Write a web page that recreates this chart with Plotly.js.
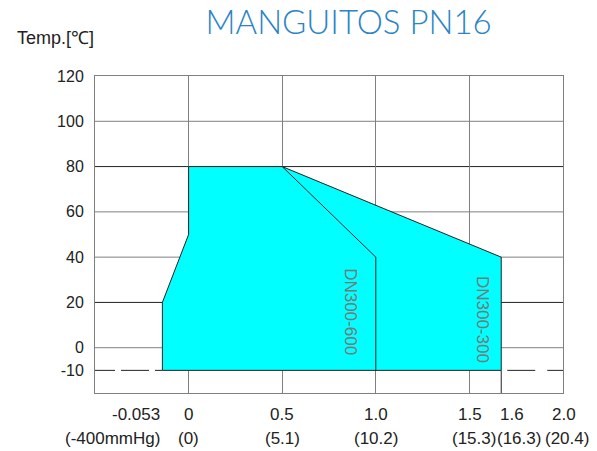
<!DOCTYPE html>
<html>
<head>
<meta charset="utf-8">
<script src="https://cdn.plot.ly/plotly-3.0.1.min.js"></script>
<style>html,body{margin:0;padding:0;background:#fff;}#chart{width:597px;height:451px;}</style>
</head>
<body>
<div id="chart"></div>
<script>
// Display positions of the pressure ticks on the (non-linear) pressure axis
const pressPos = [-0.14, 0, 0.5, 1.0, 1.5, 1.67, 2.0];
const pressMPa = ['-0.053', '0', '0.5', '1.0', '1.5', '1.6', '2.0'];
const pressKg = ['(-400mmHg)', '(0)', '(5.1)', '(10.2)', '(15.3)', '(16.3)', '(20.4)'];
const tempTicks = [120, 100, 80, 60, 40, 20, 0, -10];

// Working envelope DN300-300 (outer boundary)
const envX = [-0.14, -0.14, 0, 0, 0.5, 1.67, 1.67, -0.14];
const envT = [-10, 20, 50, 80, 80, 40, -10, -10];
// DN300-600 limit line
const dn600X = [0.5, 1.0, 1.0];
const dn600T = [80, 40, -10];

const gray = '#808080', dark = '#222';
const labelFont = {family: 'Liberation Sans, Arial', size: 17, color: dark};

const traces = [
  {x: envX, y: envT, mode: 'lines', fill: 'toself', fillcolor: '#00FFFF',
   line: {color: dark, width: 1}, hoverinfo: 'skip', showlegend: false},
  {x: dn600X, y: dn600T, mode: 'lines', line: {color: dark, width: 1},
   hoverinfo: 'skip', showlegend: false}
];

const shapes = [];
// horizontal grid lines (-10 handled separately as dashed)
tempTicks.filter(t => t !== -10 && t !== 120).forEach(t => {
  shapes.push({type: 'line', xref: 'paper', x0: 0, x1: 1, yref: 'y', y0: t, y1: t,
    layer: 'below', line: {color: (t === 80 || t === 20) ? dark : gray, width: 1}});
});
// dashed -10 line outside the envelope
shapes.push({type: 'line', xref: 'x', x0: -0.5, x1: envX[0], yref: 'y', y0: -10, y1: -10,
  layer: 'below', line: {color: dark, width: 1, dash: '20px,6px,28px,6px'}});
shapes.push({type: 'line', xref: 'x', x0: envX[5], x1: 2.0, yref: 'y', y0: -10, y1: -10,
  layer: 'below', line: {color: dark, width: 1, dash: '0px,6px,28px,6px'}});
// tick line at 1.6 below -10
shapes.push({type: 'line', xref: 'x', x0: envX[5], x1: envX[5], yref: 'y', y0: -20, y1: -10,
  layer: 'below', line: {color: dark, width: 1}});

// small horizontal offsets of the label text relative to its tick (pixels)
const shiftTop = [0, 0, 0, 0, 1, 11, 1];
const shiftBot = [0, 0, 0, 0, 5, 18, 4];
const annotations = [];
pressPos.forEach((p, i) => {
  annotations.push({x: p, y: -20, xref: 'x', yref: 'y', text: pressMPa[i], showarrow: false,
    xanchor: i === 0 ? 'right' : 'center', xshift: shiftTop[i], yanchor: 'middle', yshift: -21,
    font: labelFont});
  annotations.push({x: p, y: -20, xref: 'x', yref: 'y', text: pressKg[i], showarrow: false,
    xanchor: i === 0 ? 'right' : 'center', xshift: shiftBot[i], yanchor: 'middle', yshift: -45,
    font: labelFont});
});
annotations.push({x: 0.861, y: 15.8, xref: 'x', yref: 'y', text: 'DN300-600', showarrow: false,
  textangle: 90, font: {family: 'Liberation Sans, Arial', size: 17, color: '#777'}});
annotations.push({x: 1.567, y: 12.3, xref: 'x', yref: 'y', text: 'DN300-300', showarrow: false,
  textangle: 90, font: {family: 'Liberation Sans, Arial', size: 17, color: '#777'}});
annotations.push({x: -0.171, y: 1.12, xref: 'paper', yref: 'paper', text: 'Temp.[℃]', showarrow: false,
  xanchor: 'left', yanchor: 'middle', font: {family: 'Liberation Sans, Arial', size: 18, color: dark}});

const layout = {
  width: 597, height: 451,
  margin: {l: 95, r: 34, t: 76, b: 58},
  paper_bgcolor: '#fff', plot_bgcolor: '#fff',
  title: {text: 'MANGUITOS PN16', x: 0.584, xanchor: 'center', y: 0.951, yanchor: 'middle',
    font: {family: 'Lato, Open Sans, sans-serif', size: 33, color: '#2A84C6', weight: 300}},
  xaxis: {range: [-0.5, 2.0], tickvals: [0, 0.5, 1.0, 1.5, 2.0], showticklabels: false,
    showgrid: true, gridcolor: gray, gridwidth: 1, zeroline: false,
    showline: true, mirror: true, linecolor: gray, linewidth: 1, ticks: '', fixedrange: true},
  yaxis: {range: [-20, 120], tickvals: tempTicks, ticktext: tempTicks.map(String),
    showgrid: false, zeroline: false, showline: true, mirror: true, linecolor: gray, linewidth: 1,
    ticks: '', ticklabelstandoff: 7,
    tickfont: {family: 'Liberation Sans, Arial', size: 16, color: dark}, fixedrange: true},
  shapes: shapes,
  annotations: annotations,
  showlegend: false
};

Plotly.newPlot('chart', traces, layout, {displayModeBar: false, staticPlot: true});
</script>
</body>
</html>
